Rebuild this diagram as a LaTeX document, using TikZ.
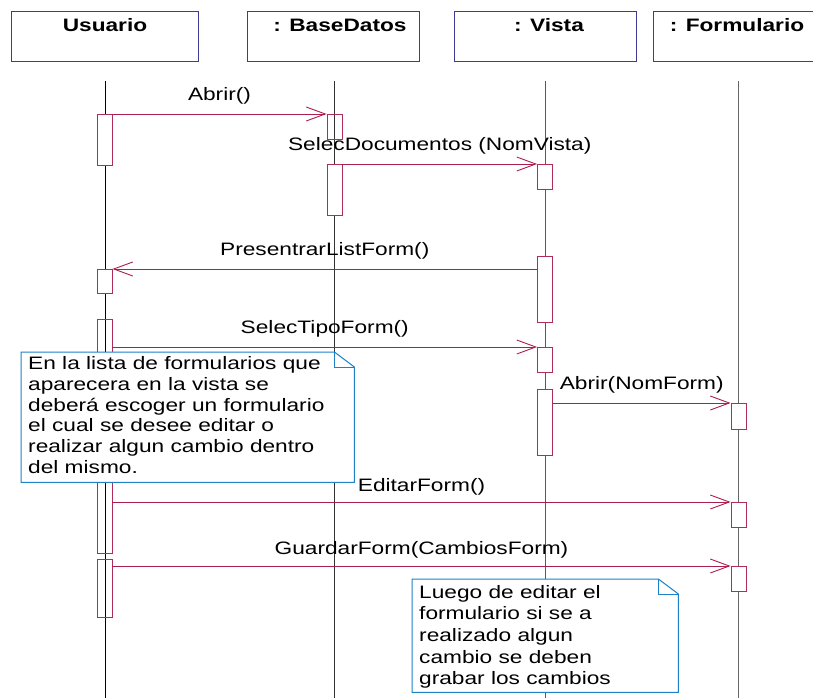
\documentclass[tikz,border=0pt]{standalone}
\usepackage{fontspec}
\setmainfont{Liberation Sans}[FakeStretch=1.26]
\usetikzlibrary{arrows.meta}
\definecolor{msgred}{RGB}{170,30,80}
\definecolor{barred}{RGB}{175,45,90}
\definecolor{headblue}{RGB}{60,60,150}
\definecolor{noteblue}{RGB}{30,130,200}

\begin{document}
\begin{tikzpicture}[x=1pt,y=-1pt,
  headbox/.style={draw=headblue, line width=1.2pt, rectangle, inner sep=0pt, minimum height=50pt, anchor=north west},
  headtitle/.style={font=\fontsize{18}{21}\selectfont\bfseries, anchor=base, inner sep=0pt},
  lifeline/.style={line width=0.9pt},
  actbar/.style={draw=barred, fill=white, line width=0.9pt, rectangle, inner sep=0pt, minimum width=15pt, anchor=north},
  hollow/.style={fill=none},
  msg/.style={draw=msgred, line width=0.9pt, -{Straight Barb[length=19pt,width=14pt]}},
  msglabel/.style={midway, anchor=base, yshift=13.5pt, inner sep=0pt, font=\fontsize{18}{21}\selectfont, text=black},
  noteshape/.style={draw=noteblue, fill=white, line width=1pt},
  notetext/.style={anchor=north west, inner sep=0pt, align=left},
  noteframe/.style={inner sep=0pt, anchor=north west},
]
\useasboundingbox (0,0) rectangle (813,698);
\clip (0,0) rectangle (813,698);
\fill[white] (0,0) rectangle (813,698);

% object headers
\node[headbox, minimum width=187pt] (hU) at (11,11) {};
\node[headbox, minimum width=172pt] (hB) at (247,11) {};
\node[headbox, minimum width=182pt] (hV) at (454,11) {};
\node[headbox, minimum width=180pt] (hF) at (653,11) {};
\node[headtitle] (tU) at (105,32) {Usuario};
\node[headtitle] (tB) at (340,32) {: BaseDatos};
\node[headtitle] (tV) at (549,32) {: Vista};
\node[headtitle] (tF) at (737,32) {: Formulario};

% lifelines
\coordinate (lUa) at (105,81);  \coordinate (lUb) at (105,698);
\coordinate (lBa) at (334,81);  \coordinate (lBb) at (334,698);
\coordinate (lVa) at (545,81);  \coordinate (lVb) at (545,698);
\coordinate (lFa) at (738.5,81); \coordinate (lFb) at (738.5,698);
\draw[lifeline, black] (lUa) -- (lUb);
\draw[lifeline, black!80] (lBa) -- (lBb);
\draw[lifeline, black!65] (lVa) -- (lVb);
\draw[lifeline, black!60] (lFa) -- (lFb);

% activation bars
\node[actbar, minimum height=51pt] (ub1) at (104.5,114) {};
\node[actbar, minimum height=24pt] (ub2) at (104.5,269) {};
\node[actbar, hollow, minimum height=234pt] (ub3) at (104.5,319) {};
\node[actbar, hollow, minimum height=58pt] (ub4) at (104.5,559) {};
\node[actbar, hollow, minimum height=25pt] (bb1) at (334.5,114) {};
\node[actbar, minimum height=51pt] (bb2) at (334.5,164) {};
\node[actbar, minimum height=25pt] (vb1) at (545,164) {};
\node[actbar, minimum height=66pt] (vb2) at (545,256) {};
\node[actbar, minimum height=25pt] (vb3) at (545,347) {};
\node[actbar, minimum height=66pt] (vb4) at (545,389) {};
\node[actbar, minimum height=26pt] (fb1) at (738.5,403) {};
\node[actbar, minimum height=25pt] (fb2) at (738.5,502) {};
\node[actbar, minimum height=25pt] (fb3) at (738.5,566) {};

% messages
\draw[msg] (ub1.north east) -- (bb1.north west) node[msglabel] {Abrir()};
\draw[msg] (bb2.north east) -- (vb1.north west) node[msglabel] {SelecDocumentos (NomVista)};
\draw[msg] (vb2.west |- ub2.north) -- (ub2.north east) node[msglabel] {PresentrarListForm()};
\draw[msg] (ub3.east |- vb3.north) -- (vb3.north west) node[msglabel] {SelecTipoForm()};
\draw[msg] (vb4.east |- fb1.north) -- (fb1.north west) node[msglabel] {Abrir(NomForm)};
\draw[msg] (ub3.east |- fb2.north) -- (fb2.north west) node[msglabel, yshift=-2.5pt] {EditarForm()};
\draw[msg] (ub4.east |- fb3.north) -- (fb3.north west) node[msglabel, yshift=-1.5pt] {GuardarForm(CambiosForm)};

% note: choosing a form
\node[noteframe, minimum width=333pt, minimum height=130pt] (n1) at (21,352) {};
\path[noteshape] (n1.north west) -- ([xshift=-20pt]n1.north east) -- ([yshift=-15pt]n1.north east)
  -- (n1.south east) -- (n1.south west) -- cycle;
\draw[noteshape, fill=none] ([xshift=-20pt]n1.north east) |- ([yshift=-15pt]n1.north east);
\node[notetext, font=\fontsize{18}{20.9}\selectfont] (t1) at ([xshift=7pt,yshift=-4pt]n1.north west)
  {En la lista de formularios que\\aparecera en la vista se\\deberá escoger un formulario\\el cual se desee editar o\\realizar algun cambio dentro\\del mismo.};

% note: saving the changes
\node[noteframe, minimum width=266pt, minimum height=113pt] (n2) at (412,579) {};
\path[noteshape] (n2.north west) -- ([xshift=-20pt]n2.north east) -- ([yshift=-15pt]n2.north east)
  -- (n2.south east) -- (n2.south west) -- cycle;
\draw[noteshape, fill=none] ([xshift=-20pt]n2.north east) |- ([yshift=-15pt]n2.north east);
\node[notetext, font=\fontsize{18}{21.6}\selectfont] (t2) at ([xshift=7pt,yshift=-6pt]n2.north west)
  {Luego de editar el\\formulario si se a\\realizado algun\\cambio se deben\\grabar los cambios};
\end{tikzpicture}
\end{document}
